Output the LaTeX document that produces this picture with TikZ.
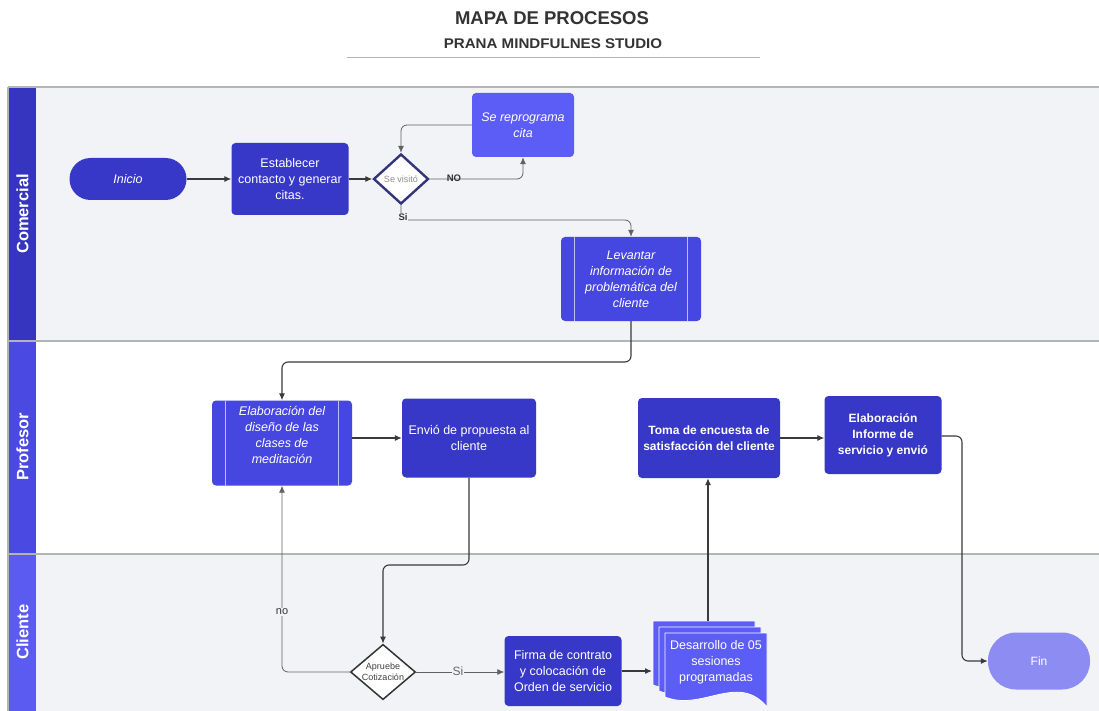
\documentclass[tikz,border=0pt]{standalone}
\usepackage{fontspec}
\setmainfont{Liberation Sans}
\usetikzlibrary{shapes.geometric,arrows.meta,calc}

\definecolor{darkbox}{HTML}{3737C8}
\definecolor{midbox}{HTML}{4646E0}
\definecolor{lightbox}{HTML}{5C5CF6}
\definecolor{finbox}{HTML}{8C8CF2}
\definecolor{lanegray}{HTML}{F1F3F6}
\definecolor{laneline}{HTML}{B4B4B4}
\definecolor{hdrA}{HTML}{3535C0}
\definecolor{hdrB}{HTML}{4A4AE2}
\definecolor{hdrC}{HTML}{5B5BF2}
\definecolor{navy}{HTML}{34347A}
\definecolor{titlegray}{HTML}{333333}
\definecolor{wire}{HTML}{3A3A3A}

\tikzset{
  body/.style={font=\fontsize{12.5}{16}\selectfont},
  boldbody/.style={font=\bfseries\fontsize{12}{16}\selectfont},
  stepbox/.style={rectangle, rounded corners=4pt, fill=darkbox, text=white,
    align=center, inner sep=2pt, body},
  procbox/.style={rectangle, rounded corners=4pt, fill=midbox, text=white,
    align=center, inner sep=2pt, body, font=\itshape\fontsize{12.5}{16}\selectfont},
  terminal/.style={rectangle, text=white, align=center, body},
  decision/.style={diamond, aspect=1.1, fill=white, inner sep=0pt, align=center},
  conn/.style={draw=wire, line width=1.1pt, rounded corners=6pt,
    -{Latex[length=7pt,width=6pt]}},
  thinconn/.style={draw=wire!80, line width=0.8pt, rounded corners=6pt,
    -{Latex[length=7pt,width=6pt]}},
  lanehdr/.style={rotate=90, text=white, font=\bfseries\fontsize{16.5}{19}\selectfont},
  edgelbl/.style={text=titlegray, inner sep=1pt},
}

\begin{document}
\begin{tikzpicture}[x=1pt,y=-1pt]
\useasboundingbox[fill=white] (0,0) rectangle (1099,711);

% ---- title ----
\node[text=titlegray, font=\bfseries\fontsize{18.5}{21}\selectfont] (title) at (552,18) {MAPA DE PROCESOS};
\node[text=titlegray, font=\bfseries\fontsize{14}{16}\selectfont] (subtitle) at (553,44)
  {\scalebox{1.08}[1]{PRANA MINDFULNES STUDIO}};
\draw[laneline, line width=0.8pt] (347,57) -- (760,57);

% ---- swimlanes ----
\fill[lanegray] (36,87) rectangle (1099,341);
\fill[white] (36,341) rectangle (1099,554);
\fill[lanegray] (36,554) rectangle (1099,711);
\fill[hdrA] (9,88) rectangle (36,340);
\fill[hdrB] (9,342) rectangle (36,553);
\fill[hdrC] (9,555) rectangle (36,711);
\draw[laneline, line width=1.2pt] (8,87) -- (1099,87);
\draw[laneline, line width=1.2pt] (8,341) -- (1099,341);
\draw[laneline, line width=1.2pt] (8,554) -- (1099,554);
\draw[laneline, line width=1.2pt] (8,87) -- (8,711);
\node[lanehdr] (lcom) at (22.5,214) {Comercial};
\node[lanehdr] (lpro) at (22.5,447) {Profesor};
\node[lanehdr] (lcli) at (22.5,632) {Cliente};

% ---- Comercial lane ----
\node[terminal, fill=darkbox, rounded corners=21pt, minimum width=117pt, minimum height=42pt,
  font=\itshape\fontsize{12.5}{16}\selectfont] (ini) at (128,179) {Inicio};
\node[stepbox, minimum width=117pt, minimum height=72pt] (est) at (290,179)
  {Establecer\\contacto y generar\\citas.};
\node[decision, draw=navy, line width=2.4pt, minimum width=55pt, minimum height=50pt,
  text=black!45, font=\fontsize{9}{10}\selectfont] (sv) at (401,179) {Se visitó};
\node[stepbox, fill=lightbox, minimum width=102pt, minimum height=64pt,
  font=\itshape\fontsize{12.5}{16}\selectfont] (rep) at (523,125) {Se reprograma\\cita};
\node[procbox, minimum width=140pt, minimum height=84pt] (lev) at (631,279)
  {Levantar\\información de\\problemática del\\cliente};
\draw[white!65!midbox, line width=1.3pt] ([xshift=14pt]lev.north west) -- ([xshift=14pt]lev.south west);
\draw[white!65!midbox, line width=1.3pt] ([xshift=-14pt]lev.north east) -- ([xshift=-14pt]lev.south east);

% ---- Profesor lane ----
\node[procbox, minimum width=140pt, minimum height=85pt] (ela) at (282,443)
  {Elaboración del\\diseño de las\\clases de\\meditación\\[0pt]};
\draw[white!65!midbox, line width=1.3pt] ([xshift=14pt]ela.north west) -- ([xshift=14pt]ela.south west);
\draw[white!65!midbox, line width=1.3pt] ([xshift=-14pt]ela.north east) -- ([xshift=-14pt]ela.south east);
\node[stepbox, minimum width=134pt, minimum height=79pt] (env) at (469,438)
  {Envió de propuesta al\\cliente};
\node[stepbox, boldbody, minimum width=142pt, minimum height=80pt] (toma) at (709,438)
  {Toma de encuesta de\\satisfacción del cliente};
\node[stepbox, boldbody, minimum width=117pt, minimum height=78pt] (inf) at (883,435)
  {Elaboración\\Informe de\\servicio y envió};

% ---- Cliente lane ----
\node[decision, draw=black!80, line width=1.5pt, minimum width=65pt, minimum height=55pt,
  text=black!75, font=\fontsize{9}{10.5}\selectfont] (apr) at (383,672) {Apruebe\\Cotización};
\node[stepbox, minimum width=117pt, minimum height=70pt] (fir) at (563,671)
  {Firma de contrato\\y colocación de\\Orden de servicio};
% stacked document sheets
\foreach \d in {12,6,0}{
  \path[fill=lightbox, draw=white, line width=0.8pt, shift={(-\d,-\d)}]
    (665,633) -- (767,633) -- (767,707)
    .. controls (738,672) and (702,712) .. (665,697) -- cycle;
}
\node[text=white, align=center, body, minimum width=102pt, minimum height=60pt] (des) at (716,662)
  {Desarrollo de 05\\sesiones\\programadas};
\coordinate (destop) at (708,621);
\node[terminal, fill=finbox, rounded corners=28pt, minimum width=102pt, minimum height=57pt,
  font=\fontsize{12}{14}\selectfont] (fin) at (1039,661) {Fin};

% ---- connectors ----
\draw[conn] (ini.east) -- (est.west);
\draw[conn] (est.east) -- (sv.west);
\draw[thinconn] (sv.east) -| (rep.south);
\node[edgelbl, font=\bfseries\fontsize{9.5}{11}\selectfont] (lno) at (454,178) {NO};
\draw[thinconn] (rep.west) -| (sv.north);
\coordinate (sibend) at (401,220);
\draw[thinconn] (sv.south) -- (sibend) -| (lev.north);
\node[edgelbl, fill=lanegray, font=\bfseries\fontsize{9.5}{11}\selectfont] (lsi) at (403,217) {Si};
\coordinate (levbend) at (631,362);
\draw[conn] (lev.south) -- (levbend) -| (ela.north);
\draw[conn] (ela.east |- env.west) -- (env.west);
\coordinate (envbend) at (469,565);
\draw[conn] (env.south) -- (envbend) -| (apr.north);
\draw[thinconn] (apr.west) -| (ela.south);
\node[edgelbl, fill=lanegray, font=\fontsize{11}{13}\selectfont] (lno2) at (282,612) {no};
\draw[thinconn] (apr.east) -- (apr.east -| fir.west);
\node[edgelbl, fill=lanegray, text=black!60, font=\fontsize{12}{14}\selectfont] (lsi2) at (458,671) {Si};
\coordinate (desleft) at (652,671);
\draw[conn] (fir.east) -- (desleft);
\draw[conn] (destop) -- (destop |- toma.south);
\draw[conn] (toma.east) -- (toma.east -| inf.west);
\coordinate (infbend) at (962,436);
\draw[conn] (inf.east |- infbend) -- (infbend) |- (fin.west);
\end{tikzpicture}
\end{document}
